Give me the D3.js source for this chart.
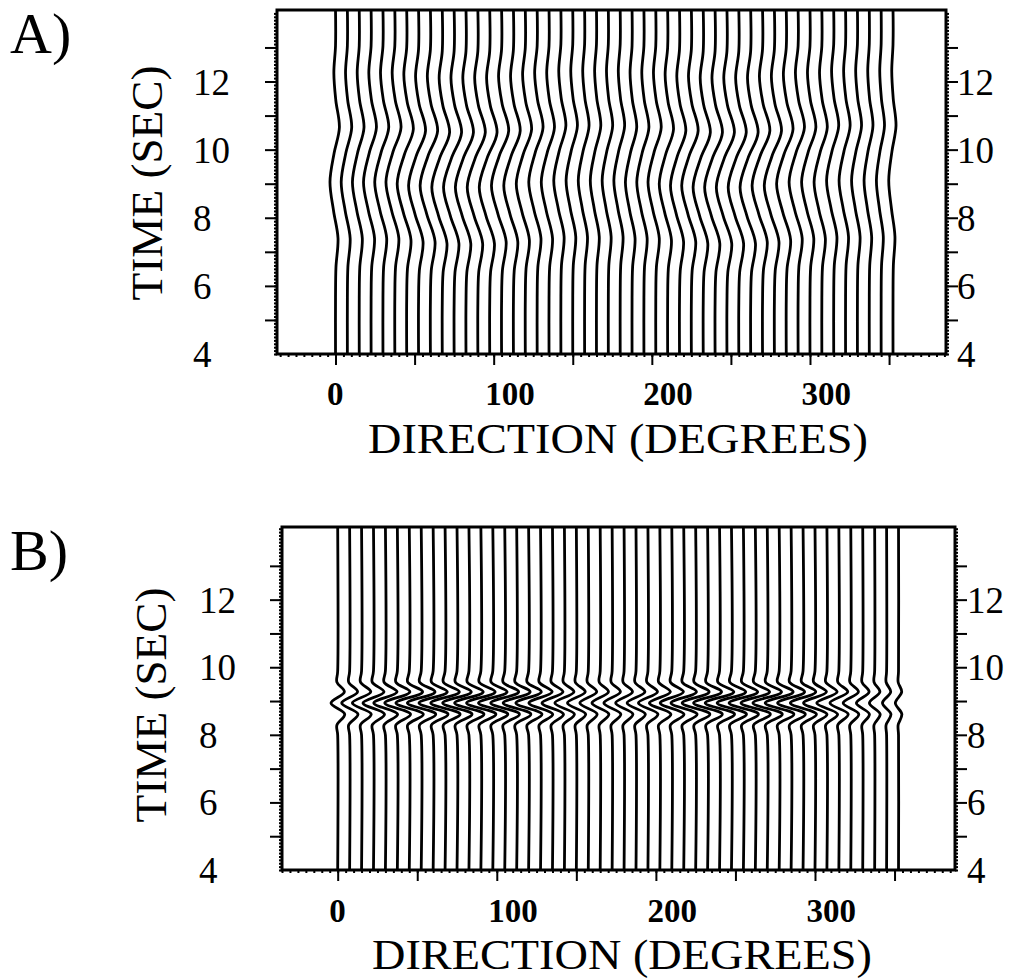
<!DOCTYPE html>
<html><head><meta charset="utf-8">
<script src="https://cdn.jsdelivr.net/npm/d3@7/dist/d3.min.js"></script>
<style>body{margin:0;background:#fff}svg{display:block}text{font-family:"Liberation Serif","DejaVu Serif",serif;fill:#000}</style>
</head><body>
<svg id="chart" width="1018" height="978"></svg>
<script>
// ---- data ----
const directions = [0,7.5,15,22.5,30,37.5,45,52.5,60,67.5,75,82.5,90,97.5,105,112.5,120,127.5,135,142.5,150,157.5,165,172.5,180,187.5,195,202.5,210,217.5,225,232.5,240,247.5,255,262.5,270,277.5,285,292.5,300,307.5,315,322.5,330,337.5,345,352.5];
const timeTicks = [4,6,8,10,12];
const dirTicks = [0,100,200,300];
// panel A: trace amplitude (degrees of deflection) and arrival shift (s)
const ampA = [3.5,3.9,4.3,4.8,5.2,5.6,6.0,6.3,6.5,6.6,6.7,6.7,6.7,6.6,6.4,6.1,5.7,5.3,4.9,4.5,4.2,4.0,3.9,3.9,4.0,4.2,4.5,4.9,5.3,5.7,6.1,6.4,6.6,6.7,6.7,6.7,6.6,6.4,6.1,5.7,5.3,4.9,4.5,4.1,3.7,3.3,3.0,2.7];
const shiftA = [0,0,0,0,0,0,-0.05,-0.1,-0.1,-0.15,-0.15,-0.15,-0.15,-0.15,-0.1,-0.1,-0.05,0,0,0.05,0.05,0.05,0.05,0.05,0.05,0,0,0,-0.05,-0.1,-0.1,-0.15,-0.15,-0.15,-0.15,-0.15,-0.1,-0.1,-0.05,0,0,0,0.05,0.05,0.05,0.05,0.05,0.05];
// panel B
const ampB = [4.2,5.0,5.8,6.6,7.3,7.9,8.4,8.7,8.9,9.0,9.0,9.0,9.0,9.0,8.8,8.5,8.0,7.3,6.6,6.0,5.6,5.3,5.2,5.2,5.3,5.6,6.0,6.6,7.3,8.0,8.5,8.8,9.0,9.0,9.0,9.0,9.0,8.8,8.5,8.0,7.2,6.4,5.6,4.8,4.0,3.3,2.6,2.0];
const shiftB = [0,0,0,0,0,0,0,0,0,0,0,0,0,0,0,0,0,0,0,0,0,0,0,0,0,0,0,0,0,0,0,0,0,0,0,0,0,0,0,0,0,0,0,0,0,0,0,0];
// wavelet shapes (time relative to arrival, normalised deflection)
const waveRelA = [-3.4,-2.5,-1.65,-0.85,0,0.85,1.6,2.4,3.2,4.0];
const waveValA = [0,0.08,0.45,-0.35,-1,-0.25,0.7,0.05,-0.3,0];
const waveRelB = [-0.95,-0.65,-0.33,0,0.33,0.62,0.95];
const waveValB = [0,-0.12,1.05,-1,1.0,-0.12,0];
const arrivalA = 9.05, arrivalB = 8.94;

const svg = d3.select("#chart");

function panel(o){
  const g = svg.append("g");
  const x = d3.scaleLinear().domain(o.xDom).range([o.left,o.right]);
  const y = d3.scaleLinear().domain(o.yDom).range([o.bottom,o.top]);
  const line = d3.line().x(d=>x(d[0])).y(d=>y(d[1])).curve(d3.curveCatmullRom.alpha(0.5));
  directions.forEach((dir,i)=>{
    const pts = [[dir,o.yDom[0]]];
    o.rel.forEach((r,k)=>{ pts.push([dir + o.amp[i]*o.val[k], o.arrival + o.shift[i] + r]); });
    pts.push([dir,o.yDom[1]]);
    pts.sort((a,b)=>a[1]-b[1]);
    g.append("path").attr("d",line(pts)).attr("fill","none").attr("stroke","#000").attr("stroke-width",2.8);
  });
  g.append("rect").attr("x",o.left).attr("y",o.top).attr("width",o.right-o.left).attr("height",o.bottom-o.top)
    .attr("fill","none").attr("stroke","#000").attr("stroke-width",3);
  const minorT = d3.range(o.yDom[0],o.yDom[1],0.1);
  const majorT = [5,6,7,8,9,10,11,12,13];
  const noDomain = s=>s.select(".domain").remove();
  g.append("g").attr("transform",`translate(${o.left},0)`).call(d3.axisLeft(y).tickValues(minorT).tickSize(3).tickFormat("")).call(noDomain);
  g.append("g").attr("transform",`translate(${o.left},0)`).call(d3.axisLeft(y).tickValues(majorT).tickSize(12).tickFormat("")).call(noDomain);
  g.append("g").attr("transform",`translate(${o.right},0)`).call(d3.axisRight(y).tickValues(minorT).tickSize(3).tickFormat("")).call(noDomain);
  g.append("g").attr("transform",`translate(${o.right},0)`).call(d3.axisRight(y).tickValues(majorT).tickSize(12).tickFormat("")).call(noDomain);
  const minorX = d3.range(-35,o.xDom[1],5);
  g.append("g").attr("transform",`translate(0,${o.bottom})`).call(d3.axisBottom(x).tickValues(minorX).tickSize(3).tickFormat("")).call(noDomain);
  g.append("g").attr("transform",`translate(0,${o.bottom})`).call(d3.axisBottom(x).tickValues([0,50,100,150,200,250,300,350]).tickSize(11).tickFormat("")).call(noDomain);
  g.selectAll(".tick line").attr("stroke","#000").attr("stroke-width",2);
  timeTicks.forEach(t=>{
    g.append("text").attr("x",o.leftLab).attr("y",y(t)+13).attr("font-size",37).text(t);
    g.append("text").attr("x",o.rightLab).attr("y",y(t)+13).attr("font-size",37).text(t);
  });
  dirTicks.forEach(d=>{
    g.append("text").attr("x",x(d)-8.5).attr("y",o.xLabY).attr("font-size",33).attr("font-weight","bold").text(d);
  });
  g.append("text").attr("x",o.xTitleX).attr("y",o.xTitleY).attr("font-size",43)
    .attr("textLength",500).attr("lengthAdjust","spacingAndGlyphs").text("DIRECTION (DEGREES)");
  g.append("text").attr("transform",`translate(${o.yTitleX},${o.yTitleY}) rotate(-90)`).attr("text-anchor","middle")
    .attr("font-size",44).attr("textLength",235).attr("lengthAdjust","spacingAndGlyphs").text("TIME (SEC)");
  g.append("text").attr("x",10).attr("y",o.letterY).attr("font-size",58).text(o.letter);
}

panel({letter:"A)",letterY:53,xDom:[-37,386],left:277,right:946,yDom:[4,14.1],top:10,bottom:354,
  amp:ampA,shift:shiftA,rel:waveRelA,val:waveValA,arrival:arrivalA,
  leftLab:193,rightLab:957,xLabY:405,xTitleX:368,xTitleY:453,yTitleX:162,yTitleY:183});
panel({letter:"B)",letterY:570,xDom:[-35,388],left:282,right:955,yDom:[4,14.15],top:527,bottom:870,
  amp:ampB,shift:shiftB,rel:waveRelB,val:waveValB,arrival:arrivalB,
  leftLab:199,rightLab:967,xLabY:922,xTitleX:372,xTitleY:969,yTitleX:166,yTitleY:705});
</script></body></html>
